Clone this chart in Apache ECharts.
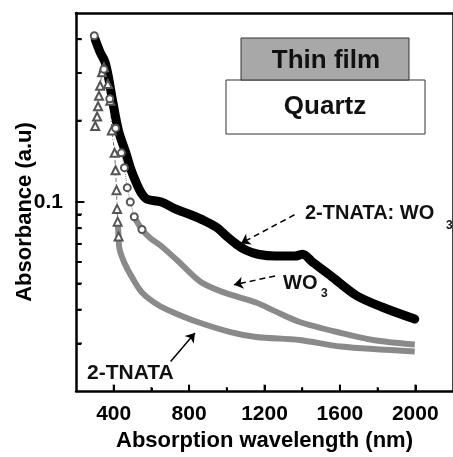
<!DOCTYPE html>
<html>
<head>
<meta charset="utf-8">
<style>
  html, body { margin: 0; padding: 0; background: #fff; }
  #chart { width: 453px; height: 457px; }
</style>
<script src="https://cdn.jsdelivr.net/npm/echarts@6.0.0/dist/echarts.min.js"></script>
</head>
<body>
<div id="chart"></div>
<script>
// 2-TNATA:WO3 blend (thick black curve)
const blendWl = [302, 328, 354, 374, 395, 426, 467, 493, 524, 550, 576, 653, 726, 808, 881, 948, 1000, 1051, 1103, 1165, 1258, 1361, 1403, 1454, 1552, 1687, 1826, 1997];
const blendAbs = [0.399, 0.358, 0.329, 0.285, 0.235, 0.183, 0.150, 0.131, 0.116, 0.107, 0.1025, 0.100, 0.0943, 0.0897, 0.0853, 0.0804, 0.0746, 0.0698, 0.0663, 0.0641, 0.0631, 0.0631, 0.0641, 0.0600, 0.0533, 0.0451, 0.0408, 0.0369];

// WO3 (open circles)
const wo3Wl = [297, 348, 379, 410, 441, 457, 472, 488, 509, 550, 596, 653, 741, 860, 984, 1155, 1258, 1387, 1604, 1775, 1997];
const wo3Abs = [0.412, 0.310, 0.241, 0.1875, 0.152, 0.134, 0.113, 0.100, 0.0882, 0.0791, 0.0733, 0.0686, 0.0605, 0.0507, 0.0463, 0.0425, 0.0394, 0.0360, 0.0328, 0.0309, 0.0297];

// 2-TNATA (open triangles)
const tnataWl = [302, 312, 317, 322, 328, 338, 348, 369, 382, 390, 405, 410, 415, 418, 421, 426, 431, 457, 493, 550, 638, 726, 845, 1015, 1155, 1387, 1604, 1997];
const tnataAbs = [0.191, 0.207, 0.226, 0.247, 0.269, 0.302, 0.315, 0.273, 0.237, 0.184, 0.152, 0.131, 0.1106, 0.0943, 0.0846, 0.0746, 0.0669, 0.0595, 0.0533, 0.0463, 0.0415, 0.0388, 0.0360, 0.0331, 0.0317, 0.0309, 0.0292, 0.0280];

// axis ticks
const xMajor = [400, 800, 1200, 1600, 2000];
const xMinor = [600, 1000, 1400, 1800];
const yMinor = [0.03, 0.04, 0.05, 0.06, 0.07, 0.08, 0.09, 0.2, 0.3, 0.4];
const yMajor = [0.1];

// arrows of the annotations, [from, to] in data units
const arrowBlend = [[1359, 0.0897], [1075, 0.0703]];
const arrowWo3 = [[1256, 0.0533], [1038, 0.0494]];
const arrowTnata = [[702, 0.0257], [831, 0.0328]];

const font = 'Liberation Sans, Arial, sans-serif';
const pairs = (xs, ys) => xs.map((x, i) => [x, ys[i]]);
const black = '#000';
const X_MIN = 200, X_MAX = 2200, Y_MIN = 0.02, Y_MAX = 0.5;

const stroke = () => ({ color: black, width: 2.5 });
// each tick set gets its own (near black) colour, same-coloured tick sets did not show up
const ticks = (values, len, color) => ({ show: true, inside: true, length: len, customValues: values, lineStyle: { color: color, width: 2 } });
const bold = () => ({ fontFamily: font, fontWeight: 'bold', color: black });

// tick marks also as small rect symbols sitting on the axes
const tickMarks = (data, size, offset) => ({
  type: 'scatter', data: data, symbol: 'rect', symbolSize: size, symbolOffset: offset,
  clip: false, silent: true, itemStyle: { color: '#000' }, z: 5
});

const chart = echarts.init(document.getElementById('chart'));

const wo3Data = pairs(wo3Wl, wo3Abs);
const tnataData = pairs(tnataWl, tnataAbs);

const option = {
  animation: false,
  grid: { left: 76, top: 13, width: 387, height: 384 },
  xAxis: [{
    type: 'value', min: X_MIN, max: X_MAX,
    axisLine: { show: true, lineStyle: stroke() },
    axisTick: ticks(xMajor, 6, '#020202'),
    axisLabel: Object.assign({ customValues: xMajor, margin: 13, fontSize: 21, formatter: v => String(v) }, bold()),
    splitLine: { show: false },
    name: 'Absorption wavelength (nm)', nameLocation: 'middle', nameGap: 39, nameMoveOverlap: false,
    nameTextStyle: Object.assign({ fontSize: 22 }, bold())
  }, {
    type: 'value', min: X_MIN, max: X_MAX, position: 'bottom',
    axisLine: { show: false },
    axisTick: ticks(xMinor, 3, '#030303'),
    axisLabel: { show: false }, splitLine: { show: false }
  }, {
    type: 'value', min: X_MIN, max: X_MAX, position: 'top',
    axisLine: { show: true, lineStyle: stroke() },
    axisTick: { show: false },
    axisLabel: { show: false }, splitLine: { show: false }
  }],
  yAxis: [{
    type: 'log', min: Y_MIN, max: Y_MAX,
    axisLine: { show: true, lineStyle: stroke() },
    axisTick: ticks(yMajor, 8, '#040404'),
    axisLabel: Object.assign({ customValues: yMajor, margin: 13, fontSize: 21, formatter: v => String(v) }, bold()),
    splitLine: { show: false },
    name: 'Absorbance (a.u)', nameLocation: 'middle', nameGap: 40, nameRotate: 90, nameMoveOverlap: false,
    nameTextStyle: Object.assign({ fontSize: 22, padding: [0, 20, 0, 0] }, bold())
  }, {
    type: 'log', min: Y_MIN, max: Y_MAX, position: 'left',
    axisLine: { show: false },
    axisTick: ticks(yMinor, 5, '#050505'),
    axisLabel: { show: false }, splitLine: { show: false }
  }, {
    type: 'log', min: Y_MIN, max: Y_MAX, position: 'right',
    axisLine: { show: true, lineStyle: stroke() },
    axisTick: { show: false },
    axisLabel: { show: false }, splitLine: { show: false }
  }],
  series: [
    {
      name: '2-TNATA', type: 'line', data: tnataData,
      symbol: v => (v[0] < 430 ? 'emptyTriangle' : 'none'), symbolSize: 8, showAllSymbol: true,
      itemStyle: { color: '#555', borderWidth: 1 },
      lineStyle: { color: '#777', width: 1, type: [4, 2, 1, 2] }
    },
    {
      name: '2-TNATA band', type: 'line', data: tnataData.filter(p => p[0] >= 421),
      symbol: 'none', smooth: 0.3,
      lineStyle: { color: '#8a8a8a', width: 6 }
    },
    {
      name: 'WO3', type: 'line', data: wo3Data,
      symbol: v => (v[0] < 560 ? 'emptyCircle' : 'none'), symbolSize: 7, showAllSymbol: true,
      itemStyle: { color: '#555', borderWidth: 1 },
      lineStyle: { color: '#888', width: 1, type: 'dotted' }
    },
    {
      name: 'WO3 band', type: 'line', data: wo3Data.filter(p => p[0] >= 500),
      symbol: 'none', smooth: 0.3,
      lineStyle: { color: '#8a8a8a', width: 6 }
    },
    {
      name: '2-TNATA: WO3', type: 'line', data: pairs(blendWl, blendAbs),
      symbol: 'none', smooth: 0.3,
      lineStyle: { color: black, width: 9, cap: 'round', join: 'round' },
      markLine: {
        silent: true, animation: false,
        label: { show: false },
        symbol: ['none', 'arrow'], symbolSize: 9,
        lineStyle: { color: black, width: 1.5, type: [6, 4] },
        data: [
          [{ coord: arrowBlend[0] }, { coord: arrowBlend[1] }],
          [{ coord: arrowWo3[0] }, { coord: arrowWo3[1] }],
          [{ coord: arrowTnata[0], lineStyle: { type: 'solid' } }, { coord: arrowTnata[1], lineStyle: { type: 'solid' } }]
        ]
      }
    },
    tickMarks(xMajor.map(v => [v, Y_MIN]), [2, 7], [0, -3]),
    tickMarks(xMinor.map(v => [v, Y_MIN]), [2, 4], [0, -2]),
    tickMarks(yMajor.map(v => [X_MIN, v]), [9, 2], [4, 0]),
    tickMarks(yMinor.map(v => [X_MIN, v]), [6, 2], [3, 0])
  ],
  graphic: [
    { type: 'rect', shape: { x: 226, y: 80, width: 199, height: 54 }, style: { fill: '#fff', stroke: '#333', lineWidth: 1 } },
    { type: 'rect', shape: { x: 241, y: 38, width: 168, height: 42 }, style: { fill: '#a8a8a8', stroke: '#333', lineWidth: 1 } },
    { type: 'text', x: 326, y: 61, style: { text: 'Thin film', font: 'bold 26px ' + font, fill: '#111', align: 'center', verticalAlign: 'middle' } },
    { type: 'text', x: 325, y: 107, style: { text: 'Quartz', font: 'bold 26px ' + font, fill: '#111', align: 'center', verticalAlign: 'middle' } },
    { type: 'text', x: 305, y: 213, style: { text: '2-TNATA: WO', font: 'bold 20px ' + font, fill: '#111', align: 'left', verticalAlign: 'middle' } },
    { type: 'text', x: 446, y: 226, style: { text: '3', font: 'bold 12px ' + font, fill: '#111', align: 'left', verticalAlign: 'middle' } },
    { type: 'text', x: 283, y: 283, style: { text: 'WO', font: 'bold 20px ' + font, fill: '#111', align: 'left', verticalAlign: 'middle' } },
    { type: 'text', x: 321, y: 294, style: { text: '3', font: 'bold 12px ' + font, fill: '#111', align: 'left', verticalAlign: 'middle' } },
    { type: 'text', x: 87, y: 373, style: { text: '2-TNATA', font: 'bold 21px ' + font, fill: '#111', align: 'left', verticalAlign: 'middle' } }
  ]
};

chart.setOption(option);
</script>
</body>
</html>
